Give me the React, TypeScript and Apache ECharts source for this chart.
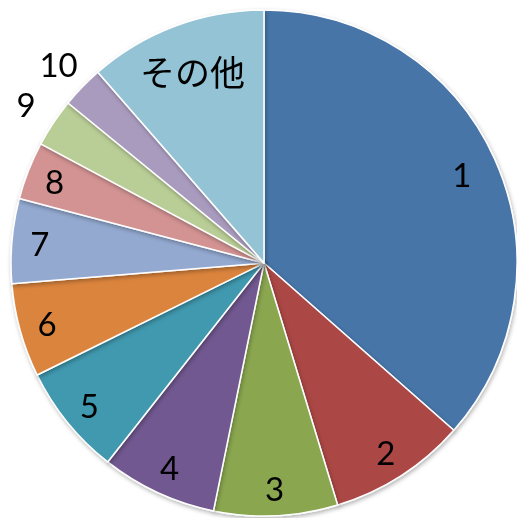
import React, { useEffect, useRef } from "react";
import * as echarts from "echarts";

const categories = ["1", "2", "3", "4", "5", "6", "7", "8", "9", "10", "その他"];
const values = [36.5, 8.8, 7.9, 7.4, 7.1, 6.0, 5.4, 3.7, 3.1, 2.7, 11.4];
const colors = [
  "#4674A8", "#AB4745", "#8AA650", "#715990", "#4199AF",
  "#DB843D", "#93A9D0", "#D29392", "#B9CD96", "#A99BBE", "#93C3D5",
];

const FONT = "Lato, 'Noto Sans CJK JP', sans-serif";

export default function App() {
  const ref = useRef<HTMLDivElement>(null);
  useEffect(() => {
    document.body.style.margin = "0";
    const chart = echarts.init(ref.current!, null, { renderer: "svg" });
    const center = [264, 263];
    const R = 253;
    // label ring groups: [outer radius of ghost pie, names shown]
    const groups: [number, string[]][] = [
      [444, ["2", "3", "4", "5", "6", "7", "8"]],
      [428, ["1"]],
      [402, ["その他"]],
      [566, ["9", "10"]],
    ];
    const mainData = categories.map((c, i) => ({
      name: c,
      value: values[i],
      itemStyle: { color: colors[i] },
    }));
    const labelStyle = {
      position: "inside",
      formatter: "{b}",
      color: "#000",
      fontSize: 33,
      fontFamily: FONT,
    };
    const ghosts = groups.map(([r, names]) => ({
      type: "pie",
      center,
      radius: [0, r],
      startAngle: 90,
      silent: true,
      z: 3,
      itemStyle: { color: "rgba(0,0,0,0)", borderWidth: 0 },
      emphasis: { disabled: true },
      labelLine: { show: false },
      label: labelStyle,
      data: categories.map((c, i) => ({
        name: c,
        value: values[i],
        label: {
          show: names.includes(c),
          fontSize: c === "その他" ? 35 : 33,
        },
      })),
    }));
    chart.setOption({
      animation: false,
      series: [
        {
          type: "pie",
          center,
          radius: [0, R],
          startAngle: 90,
          silent: true,
          z: 2,
          label: { show: false },
          labelLine: { show: false },
          itemStyle: {
            borderColor: "#ffffff",
            borderWidth: 1.5,
            shadowBlur: 4,
            shadowOffsetX: 1,
            shadowOffsetY: 2,
            shadowColor: "rgba(0,0,0,0.3)",
          },
          data: mainData,
        },
        ...ghosts,
      ],
    });
    return () => chart.dispose();
  }, []);
  return (
    <div
      ref={ref}
      style={{ position: "fixed", left: 0, top: 0, width: 517, height: 518 }}
    />
  );
}
